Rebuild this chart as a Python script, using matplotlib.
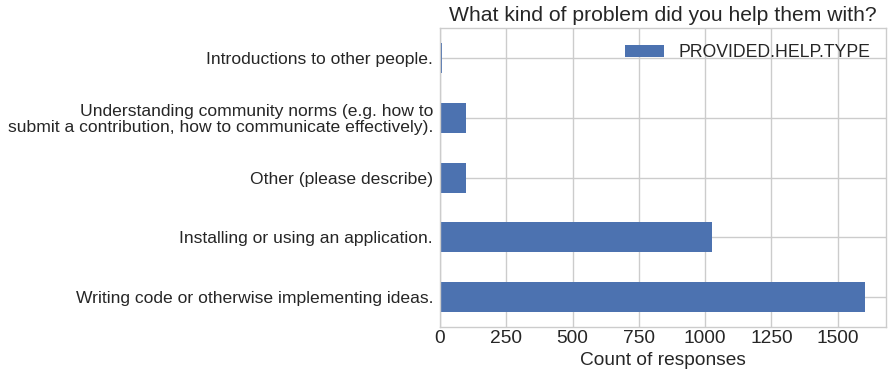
import numpy as np
import matplotlib
matplotlib.use("Agg")
import matplotlib.pyplot as plt

plt.style.use("seaborn-v0_8-whitegrid")
plt.rcParams['font.family'] = ['Liberation Sans', 'DejaVu Sans']

# data (bottom to top)
categories = [
    "Writing code or otherwise implementing ideas.",
    "Installing or using an application.",
    "Other (please describe)",
    "Understanding community norms (e.g. how to\nsubmit a contribution, how to communicate effectively).",
    "Introductions to other people.",
]
counts = [1602, 1026, 98, 98, 7]
series_name = "PROVIDED.HELP.TYPE"

fig = plt.figure(figsize=(8.93, 3.79), dpi=100)
ax = fig.add_axes([0.4927, 0.137, 0.4995, 0.789])

y = np.arange(len(categories))
ax.barh(y, counts, height=0.5, color="#4C72B0", label=series_name, zorder=2)
ax.set_yticks(y)
ax.set_yticklabels(categories, fontsize=12.6, linespacing=1.05)
ax.set_ylim(-0.5, len(categories) - 0.5)
ax.set_xlim(0, max(counts) * 1.05)
ax.set_xticks([0, 250, 500, 750, 1000, 1250, 1500])
ax.tick_params(axis='x', labelsize=13.8, pad=2)
ax.tick_params(axis='y', pad=5)
ax.set_xlabel("Count of responses", fontsize=13.8, labelpad=3.5)
ax.set_title("What kind of problem did you help them with?", fontsize=15.2, pad=5)
ax.grid(True, color="#cccccc", linewidth=1)
ax.set_axisbelow(True)
for s in ax.spines.values():
    s.set_visible(True)
    s.set_color("#cccccc")
ax.legend(loc="upper right", fontsize=12.7, frameon=False, handlelength=2.2)

fig.savefig("out.png", dpi=100)
